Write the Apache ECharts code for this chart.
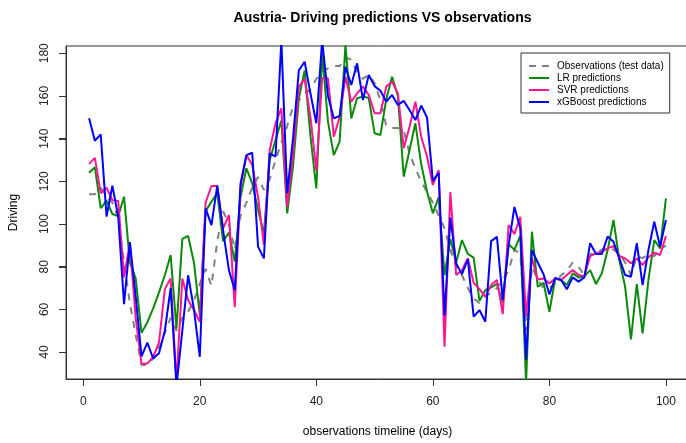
<!DOCTYPE html>
<html><head><meta charset="utf-8">
<script src="https://cdn.jsdelivr.net/npm/echarts@6/dist/echarts.min.js"></script>
<style>html,body{margin:0;padding:0;background:#fff}#c{width:686px;height:443px}</style>
</head><body><div id="c"></div>
<script>
const days = [];
for (let d = 1; d <= 100; d++) days.push(d);

const observations = [
114,114,117,113,110,103,82,63,48,34,
34,37,42,49,56,50,56,59,64,72,
79,71,92,106,100,88,104,110,117,122,
116,121,130,138,146,155,158,161,163,168,
171,173,174,174,178,177,171,168,170,166,
158,146,145,145,144,133,126,120,115,110,
104,98,88,80,76,70,65,63,66,68,
70,74,78,88,86,50,80,74,70,70,
72,76,78,82,80,76,86,86,88,89,
88,86,82,76,85,84,86,85,88,90];

const lrPred = [
124,126.6,107.4,111,104.7,103.7,112.8,82,74.5,49,
54,60.5,68,76,85.5,51,93,94.4,82,57.4,
106,110.5,114.4,92,96,82.4,112.8,126.1,119,106.6,
95.6,130,139.4,148.5,105,127,159,172,141,116.7,
180,148,132.3,138.6,184,149.5,158.9,159.7,159,142.5,
141.7,158.5,169,160,122.2,134.7,147.2,128,115.2,105,
112.5,76,93,82,92.5,86,84.3,64,69,70.3,
72,63,90.5,88,94.5,26,96.4,70.6,72.5,58.9,
74.5,73.8,71.4,76.9,75,75.5,78.4,71.9,76.9,87.8,
101.9,83.1,70.6,46,71.9,48.8,73.8,92.5,88.6,112];

const svrPred = [
128.2,131,114.4,117,111.2,110.8,75,91.2,56,34.5,
34.7,37.8,44.5,69.5,74.5,26,74.5,64.4,59.7,54.2,
110,117.8,117.8,98,104.2,61,117.5,132.3,127.6,112.8,
90.2,134.7,147.2,154.2,108,133,164.4,168,150,125,
168.3,168.3,140.9,150,169,157.3,161.2,164.4,160.5,151.9,
151.9,164.4,166.7,161.2,135.5,145.6,157.3,140.9,131.6,118.3,
125.3,42.5,115,76.1,78.4,84,72.5,69.5,66,71.4,
73.8,57.8,99.5,95.3,103.4,57,84,74,74.5,72.2,
74.5,73.8,76.1,78.4,76.1,75.6,85,86.3,87,88.6,
89.7,85,83.9,81.6,83.9,80.8,84.4,86.6,85.5,94.4];

const xgbPred = [
149.5,139,142,103.5,118,103.4,62.5,91.5,66,38,
44.4,37,39.5,50,70,24,50,76,60,37.8,
107.3,99.5,118,97,78.4,69,119,132.3,133.4,89.4,
83.9,133.1,131.6,186,114.4,140,172,176,161,147.2,
186,160,149.5,150.6,173.7,165.1,175.3,158.1,169.8,164.6,
162.4,157.3,160.5,155.8,157.7,153.4,148.7,155.5,149.9,120.2,
124,57,103,81.5,76.5,83.5,56.6,59.7,54.2,92,
94,64.5,90,108,98,36.5,87.8,82,76.5,67,
74.8,73.8,69.4,75,73,75,91,86,86,94.1,
91.7,83.9,76.1,75.3,91,71.4,87.8,101.1,89.4,101.9];

const xTicks = [0, 20, 40, 60, 80, 100];
const yTicks = [40, 60, 80, 100, 120, 140, 160, 180];
const xRange = [-2.96, 103.96];
const yRange = [27.4, 183.4];

const seriesNames = ['Observations (test data)', 'LR predictions', 'SVR predictions', 'xGBoost predictions'];
const seriesColors = ['#808080', '#0A8A0A', '#FF1493', '#0000FF'];

function pairs(vals) { return days.map((d, i) => [d, vals[i]]); }

const FONT = 'Liberation Sans, Arial, sans-serif';
const chart = echarts.init(document.getElementById('c'), null, {renderer: 'canvas'});
const mk = (i, vals, dashed) => ({
  name: seriesNames[i], type: 'line', data: pairs(vals), symbol: 'none',
  showSymbol: false, animation: false, clip: true,
  lineStyle: {color: seriesColors[i], width: 2, type: dashed ? [7, 7] : 'solid'},
  itemStyle: {color: seriesColors[i]}
});

const solidIcon = 'path://M0,0H20V2H0Z';
const dashIcon = 'path://M0,0H7V2H0Z M13,0H20V2H13Z';

chart.setOption({
  backgroundColor: '#fff',
  animation: false,
  title: {
    text: 'Austria- Driving predictions VS observations',
    left: 377.5, top: 6, textAlign: 'center',
    textStyle: {fontFamily: FONT, fontSize: 14, fontWeight: 'bold', color: '#000'}
  },
  grid: {
    left: 66, top: 46, right: -3, bottom: 64,
    containLabel: false, outerBoundsMode: 'none',
    show: true, borderColor: '#333', borderWidth: 1, backgroundColor: 'transparent'
  },
  legend: {
    orient: 'vertical', left: 521, top: 53,
    padding: [7, 6, 5, 8], itemGap: 0, itemWidth: 20, itemHeight: 2,
    borderColor: '#333', borderWidth: 1, backgroundColor: '#fff',
    itemStyle: {borderWidth: 0},
    data: [
      {name: seriesNames[0], icon: dashIcon},
      {name: seriesNames[1], icon: solidIcon},
      {name: seriesNames[2], icon: solidIcon},
      {name: seriesNames[3], icon: solidIcon}
    ],
    textStyle: {fontFamily: FONT, fontSize: 10, color: '#000', lineHeight: 12, padding: [0, 0, 0, 3]}
  },
  xAxis: {
    type: 'value', min: xRange[0], max: xRange[1],
    name: 'observations timeline (days)', nameLocation: 'middle', nameGap: 47,
    nameTextStyle: {fontFamily: FONT, fontSize: 12, color: '#000'},
    axisLine: {show: true, onZero: false, lineStyle: {color: '#333', width: 1}},
    axisTick: {show: true, inside: false, length: 7, customValues: xTicks, lineStyle: {color: '#333', width: 1}},
    axisLabel: {customValues: xTicks, margin: 17, fontFamily: FONT, fontSize: 12, color: '#222'},
    splitLine: {show: false}
  },
  yAxis: {
    type: 'value', min: yRange[0], max: yRange[1],
    name: 'Driving', nameLocation: 'middle', nameGap: 46,
    nameTextStyle: {fontFamily: FONT, fontSize: 12, color: '#000'},
    axisLine: {show: true, onZero: false, lineStyle: {color: '#333', width: 1}},
    axisTick: {show: true, inside: false, length: 7, customValues: yTicks, lineStyle: {color: '#333', width: 1}},
    axisLabel: {customValues: yTicks, rotate: 90, margin: 15, fontFamily: FONT, fontSize: 12, color: '#222'},
    splitLine: {show: false}
  },
  series: [
    mk(0, observations, true),
    mk(1, lrPred, false),
    mk(2, svrPred, false),
    mk(3, xgbPred, false)
  ]
});

// tick marks outside the plot box, positioned through the chart's own scales
let ticksAdded = false;
function addTicks() {
  if (ticksAdded) return;
  const corner = chart.convertToPixel({gridIndex: 0}, [xRange[0], yRange[0]]);
  if (!corner || !isFinite(corner[0]) || !isFinite(corner[1])) return;
  ticksAdded = true;
  const els = [];
  const xLeft = Math.round(corner[0]);
  const yBottom = Math.round(corner[1]);
  xTicks.forEach(v => {
    const p = chart.convertToPixel({gridIndex: 0}, [v, yRange[0]]);
    const px = Math.round(p[0]) + 0.5;
    els.push({type: 'line', silent: true, z: 100,
      shape: {x1: px, y1: yBottom, x2: px, y2: yBottom + 7},
      style: {stroke: '#333', lineWidth: 1}});
  });
  yTicks.forEach(v => {
    const p = chart.convertToPixel({gridIndex: 0}, [xRange[0], v]);
    const py = Math.round(p[1]) + 0.5;
    els.push({type: 'line', silent: true, z: 100,
      shape: {x1: xLeft - 7, y1: py, x2: xLeft, y2: py},
      style: {stroke: '#333', lineWidth: 1}});
  });
  chart.setOption({graphic: {elements: els}});
}
chart.on('finished', addTicks);
try { addTicks(); } catch (e) {}
setTimeout(() => { try { addTicks(); } catch (e) {} }, 50);
</script>
</body></html>
